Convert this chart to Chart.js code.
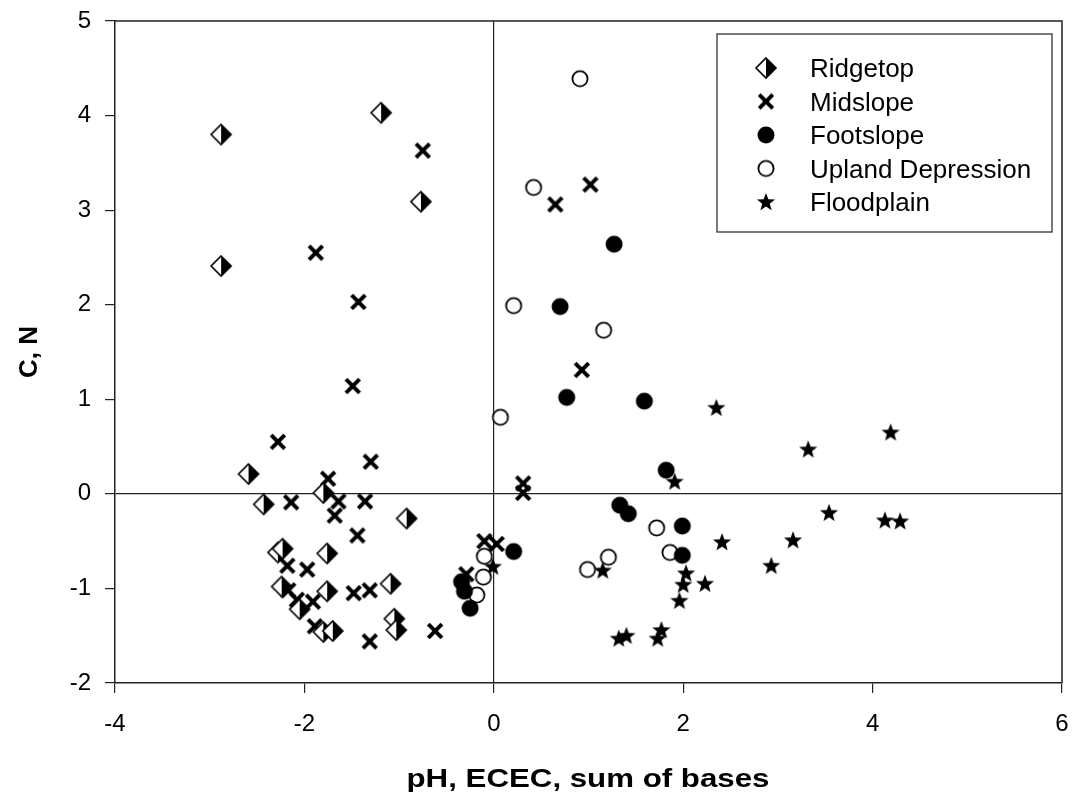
<!DOCTYPE html>
<html>
<head>
<meta charset="utf-8">
<title>C, N vs pH, ECEC, sum of bases</title>
<script src="https://cdn.jsdelivr.net/npm/chart.js@4.4.1/dist/chart.umd.min.js"></script>
<style>
    html, body { margin: 0; padding: 0; background: #fff; }
    #wrap { width: 1073px; height: 798px; }
</style>
</head>
<body>
<div id="wrap"><canvas id="scatterChart" width="1073" height="798"></canvas></div>
<script>
// ====== DATA ======
const seriesNames = ['Ridgetop', 'Midslope', 'Footslope', 'Upland Depression', 'Floodplain'];
const xTicks = [-4, -2, 0, 2, 4, 6];
const yTicks = [-2, -1, 0, 1, 2, 3, 4, 5];
const xTitle = 'pH, ECEC, sum of bases';
const yTitle = 'C, N';

// [x, y] pairs
const ridgetop = [
    [-2.88, 3.80], [-1.19, 4.03], [-0.77, 3.09], [-2.88, 2.41], [-2.59, 0.21],
    [-1.80, 0.01], [-2.43, -0.11], [-0.92, -0.26], [-2.28, -0.62], [-2.23, -0.58],
    [-1.76, -0.63], [-2.24, -0.98], [-2.05, -1.22], [-1.76, -1.03], [-1.09, -0.95],
    [-1.05, -1.32], [-1.03, -1.44], [-1.80, -1.46], [-1.70, -1.45]
];
const midslope = [
    [-0.75, 3.63], [-1.88, 2.55], [-1.43, 2.03], [-1.49, 1.14], [-2.28, 0.55],
    [-1.30, 0.34], [-1.75, 0.16], [-2.14, -0.09], [-1.64, -0.08], [-1.68, -0.23],
    [-1.36, -0.08], [-1.44, -0.44], [-2.18, -0.76], [-1.97, -0.80], [-2.17, -1.02],
    [-2.08, -1.12], [-1.91, -1.14], [-1.48, -1.05], [-1.31, -1.02], [-1.89, -1.40],
    [-1.31, -1.56], [-0.62, -1.45], [0.65, 3.06], [1.02, 3.27], [0.93, 1.31],
    [0.31, 0.11], [0.31, 0.01], [-0.10, -0.50], [0.03, -0.53], [-0.29, -0.85]
];
const footslope = [
    [1.27, 2.64], [0.70, 1.98], [0.77, 1.02], [1.59, 0.98], [1.82, 0.25],
    [1.33, -0.12], [1.42, -0.21], [1.99, -0.34], [1.99, -0.65], [0.21, -0.61],
    [-0.34, -0.93], [-0.31, -1.03], [-0.25, -1.21]
];
const uplandDepression = [
    [0.91, 4.39], [0.42, 3.24], [0.21, 1.99], [1.16, 1.73], [0.07, 0.81],
    [1.72, -0.36], [1.86, -0.62], [1.21, -0.67], [0.99, -0.80], [-0.10, -0.66],
    [-0.11, -0.88], [-0.18, -1.07]
];
const floodplain = [
    [2.35, 0.91], [4.19, 0.65], [3.32, 0.47], [1.91, 0.13], [3.54, -0.20],
    [4.13, -0.28], [4.29, -0.29], [3.16, -0.49], [2.41, -0.51], [2.93, -0.76],
    [1.15, -0.81], [2.03, -0.84], [2.00, -0.96], [2.23, -0.95], [1.96, -1.13],
    [1.32, -1.53], [1.40, -1.50], [1.73, -1.53], [1.77, -1.44], [-0.01, -0.77]
];

// ====== MARKERS ======
function makeMarker(size, draw) {
    const c = document.createElement('canvas');
    c.width = size;
    c.height = size;
    draw(c.getContext('2d'), size / 2);
    return c;
}

const halfDiamond = makeMarker(24, (ctx, m) => {
    const r = 10;
    ctx.fillStyle = '#fff';
    ctx.beginPath();
    ctx.moveTo(m, m - r); ctx.lineTo(m, m + r); ctx.lineTo(m - r, m);
    ctx.closePath(); ctx.fill();
    ctx.fillStyle = '#000';
    ctx.beginPath();
    ctx.moveTo(m, m - r); ctx.lineTo(m + r, m); ctx.lineTo(m, m + r);
    ctx.closePath(); ctx.fill();
    ctx.beginPath();
    ctx.moveTo(m, m - r); ctx.lineTo(m + r, m); ctx.lineTo(m, m + r); ctx.lineTo(m - r, m);
    ctx.closePath();
    ctx.lineWidth = 1.6;
    ctx.strokeStyle = '#000';
    ctx.stroke();
});

const thickCross = makeMarker(22, (ctx, m) => {
    const r = 6.8;
    ctx.strokeStyle = '#000';
    ctx.lineWidth = 4;
    ctx.beginPath();
    ctx.moveTo(m - r, m - r); ctx.lineTo(m + r, m + r);
    ctx.moveTo(m + r, m - r); ctx.lineTo(m - r, m + r);
    ctx.stroke();
});

const solidStar = makeMarker(22, (ctx, m) => {
    const outer = 9.5, inner = 4;
    ctx.fillStyle = '#000';
    ctx.beginPath();
    for (let i = 0; i < 10; i++) {
        const r = i % 2 === 0 ? outer : inner;
        const a = -Math.PI / 2 + i * Math.PI / 5;
        const px = m + r * Math.cos(a), py = m + 0.5 + r * Math.sin(a);
        if (i === 0) ctx.moveTo(px, py); else ctx.lineTo(px, py);
    }
    ctx.closePath();
    ctx.fill();
});

const filledDot = makeMarker(22, (ctx, m) => {
    ctx.fillStyle = '#000';
    ctx.beginPath(); ctx.arc(m, m, 8.5, 0, Math.PI * 2); ctx.fill();
});

const openDot = makeMarker(22, (ctx, m) => {
    ctx.fillStyle = '#fff';
    ctx.strokeStyle = '#000';
    ctx.lineWidth = 1.8;
    ctx.beginPath(); ctx.arc(m, m, 7.6, 0, Math.PI * 2); ctx.fill(); ctx.stroke();
});

const markers = [halfDiamond, thickCross, filledDot, openDot, solidStar];
const seriesData = [ridgetop, midslope, footslope, uplandDepression, floodplain];

// ====== PLUGIN: frame, legend, x title ======
const framePlugin = {
    id: 'frameAndLegend',
    afterDraw(chart) {
        const { ctx, chartArea: a } = chart;
        ctx.save();
        ctx.strokeStyle = '#222';
        ctx.lineWidth = 1.5;
        ctx.beginPath();
        ctx.moveTo(a.left, a.top); ctx.lineTo(a.right, a.top); ctx.lineTo(a.right, a.bottom);
        ctx.stroke();

        // legend box
        ctx.lineWidth = 1.3;
        ctx.strokeStyle = '#333';
        ctx.strokeRect(717, 34, 335, 198);
        ctx.font = '26px "Liberation Sans", Arial, sans-serif';
        ctx.fillStyle = '#000';
        ctx.textBaseline = 'alphabetic';
        ctx.textAlign = 'left';
        const rows = [68, 101.5, 135, 168.5, 202];
        seriesNames.forEach((name, i) => {
            const mk = markers[i];
            ctx.drawImage(mk, 766 - mk.width / 2, rows[i] - mk.height / 2);
            ctx.fillText(name, 810, rows[i] + 9);
        });

        // x axis title (stretched a bit like the source)
        ctx.font = 'bold 25px "Liberation Sans", Arial, sans-serif';
        ctx.textAlign = 'center';
        ctx.textBaseline = 'middle';
        ctx.translate(588, 780);
        ctx.scale(1.25, 1);
        ctx.fillText(xTitle, 0, 0);
        ctx.restore();
    }
};

// ====== CHART ======
const ctx = document.getElementById('scatterChart').getContext('2d');

new Chart(ctx, {
    type: 'scatter',
    data: {
        datasets: seriesNames.map((name, i) => ({
            label: name,
            data: seriesData[i].map(p => ({ x: p[0], y: p[1] })),
            pointStyle: markers[i],
            pointRadius: 9,
            pointHoverRadius: 9
        }))
    },
    options: {
        responsive: false,
        animation: false,
        layout: { padding: { top: 21, right: 11, left: 0, bottom: 0 } },
        plugins: {
            legend: { display: false },
            tooltip: { enabled: false }
        },
        scales: {
            x: {
                type: 'linear',
                min: xTicks[0],
                max: xTicks[xTicks.length - 1],
                afterBuildTicks: axis => { axis.ticks = xTicks.map(v => ({ value: v })); },
                afterFit: scale => {
                    scale.height = 115;
                    scale.paddingLeft = 0;
                    scale.paddingRight = 0;
                },
                border: { display: true, color: '#222', width: 1.5 },
                grid: {
                    color: c => (c.tick && c.tick.value === 0 ? '#222' : 'rgba(0,0,0,0)'),
                    lineWidth: 1.2,
                    tickColor: '#222',
                    tickLength: 10
                },
                ticks: {
                    color: '#000',
                    padding: 17,
                    font: { family: '"Liberation Sans", Arial, sans-serif', size: 24 }
                },
                title: { display: false }
            },
            y: {
                type: 'linear',
                min: yTicks[0],
                max: yTicks[yTicks.length - 1],
                afterBuildTicks: axis => { axis.ticks = yTicks.map(v => ({ value: v })); },
                afterFit: scale => {
                    scale.width = 115;
                    scale.paddingTop = 0;
                    scale.paddingBottom = 0;
                },
                border: { display: true, color: '#222', width: 1.5 },
                grid: {
                    color: c => (c.tick && c.tick.value === 0 ? '#222' : 'rgba(0,0,0,0)'),
                    lineWidth: 1.2,
                    tickColor: '#222',
                    tickLength: 10
                },
                ticks: {
                    color: '#000',
                    padding: 14,
                    font: { family: '"Liberation Sans", Arial, sans-serif', size: 24 }
                },
                title: {
                    display: true,
                    text: yTitle,
                    color: '#000',
                    padding: { top: 14, bottom: 0 },
                    font: { family: '"Liberation Sans", Arial, sans-serif', size: 26, weight: 'bold' }
                }
            }
        }
    },
    plugins: [framePlugin]
});
</script>
</body>
</html>
